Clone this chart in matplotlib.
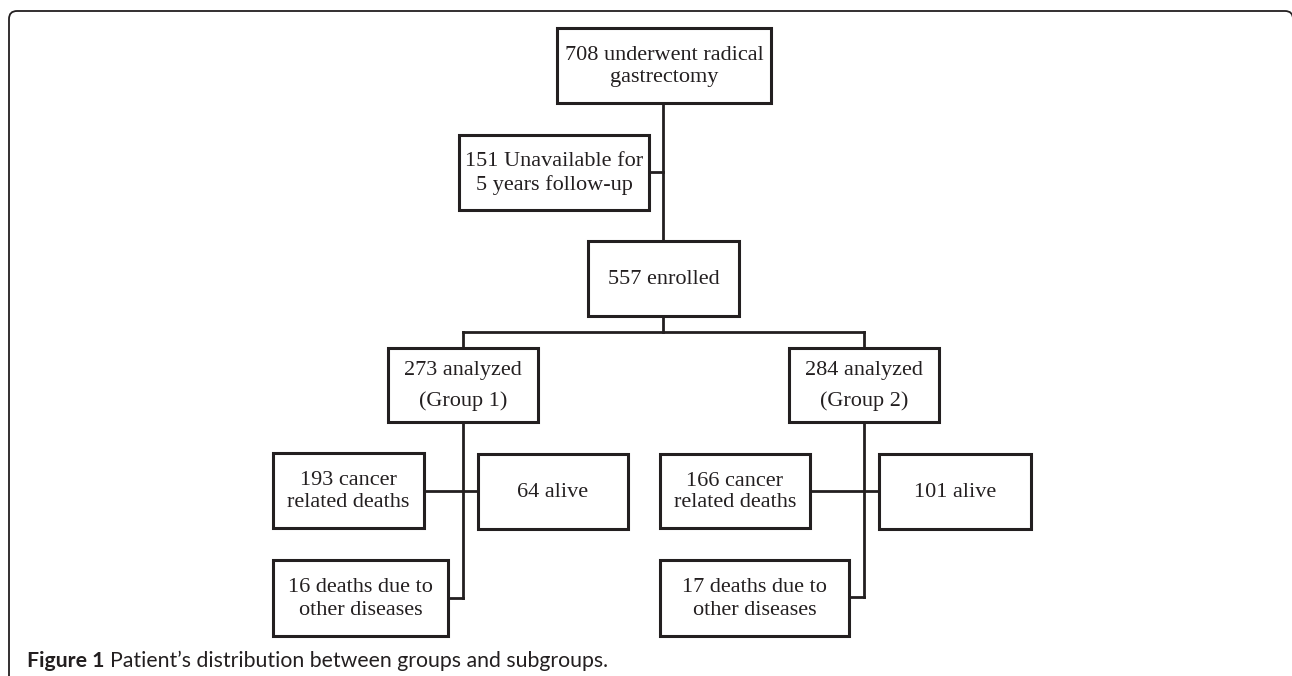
import matplotlib.pyplot as plt
from matplotlib.patches import Rectangle, PathPatch
from matplotlib.path import Path

# box texts of the flow chart
labels = ["708 underwent radical\ngastrectomy",
          "151 Unavailable for\n5 years follow-up",
          "557 enrolled",
          "273 analyzed\n(Group 1)",
          "284 analyzed\n(Group 2)",
          "193 cancer\nrelated deaths",
          "64 alive",
          "16 deaths due to\nother diseases",
          "166 cancer\nrelated deaths",
          "101 alive",
          "17 deaths due to\nother diseases"]
caption_bold = "Figure 1"
caption_text = "Patient\u2019s distribution between groups and subgroups."

# layout (pixels): x0, y0, x1, y1 per box, and the line spacing of its text
boxes = [(557, 28, 771, 103), (459, 135, 649, 210), (588, 241, 739, 316),
         (388, 348, 538, 422), (789, 348, 939, 422),
         (273, 453, 424, 528), (478, 454, 628, 529), (273, 560, 448, 636),
         (660, 454, 810, 528), (879, 454, 1031, 529), (660, 560, 849, 636)]
spacing = [1.22, 1.22, 1.22, 1.75, 1.75, 1.2, 1.2, 1.25, 1.2, 1.2, 1.25]
links = [((663, 103), (663, 241)), ((649, 172), (663, 172)),
         ((663, 316), (663, 332)), ((463, 332), (864, 332)),
         ((463, 332), (463, 348)), ((864, 332), (864, 348)),
         ((463, 422), (463, 598)), ((448, 598), (463, 598)),
         ((424, 491), (478, 491)),
         ((864, 422), (864, 597)), ((849, 597), (864, 597)),
         ((810, 491), (879, 491))]

ink = "#231f20"
W, H = 1292, 676
fig = plt.figure(figsize=(W / 100, H / 100), dpi=100)
ax = fig.add_axes([0, 0, 1, 1])
ax.set_xlim(0, W)
ax.set_ylim(H, 0)
ax.axis("off")

# outer frame: left side, top and the top-right corner (rest runs off the picture)
verts = [(9, 700), (9, 19), (9, 11), (17, 11), (1285, 11), (1293, 11), (1293, 19), (1293, 700)]
codes = [Path.MOVETO, Path.LINETO, Path.CURVE3, Path.CURVE3, Path.LINETO,
         Path.CURVE3, Path.CURVE3, Path.LINETO]
ax.add_patch(PathPatch(Path(verts, codes), fill=False, edgecolor=ink, lw=1.3))

for (a, b) in links:
    ax.plot([a[0], b[0]], [a[1], b[1]], color=ink, lw=2, solid_capstyle="projecting")

for lab, (x0, y0, x1, y1), ls in zip(labels, boxes, spacing):
    ax.add_patch(Rectangle((x0, y0), x1 - x0, y1 - y0, fill=False, edgecolor=ink,
                           lw=2.2, joinstyle="miter"))
    ax.text((x0 + x1) / 2, (y0 + y1) / 2 + 1, lab, ha="center", va="center",
            fontsize=16, family="Liberation Serif", color=ink, linespacing=ls)

t = ax.text(27, 667, caption_bold, ha="left", va="baseline", fontsize=15.3,
            family="Lato", weight="bold", color=ink)
fig.canvas.draw()
bb = t.get_window_extent()
x_end = ax.transData.inverted().transform((bb.x1, bb.y0))[0]
ax.text(x_end + 5, 667, caption_text, ha="left", va="baseline", fontsize=15.3,
        family="Lato", color=ink)

fig.savefig("out.png", dpi=100)
